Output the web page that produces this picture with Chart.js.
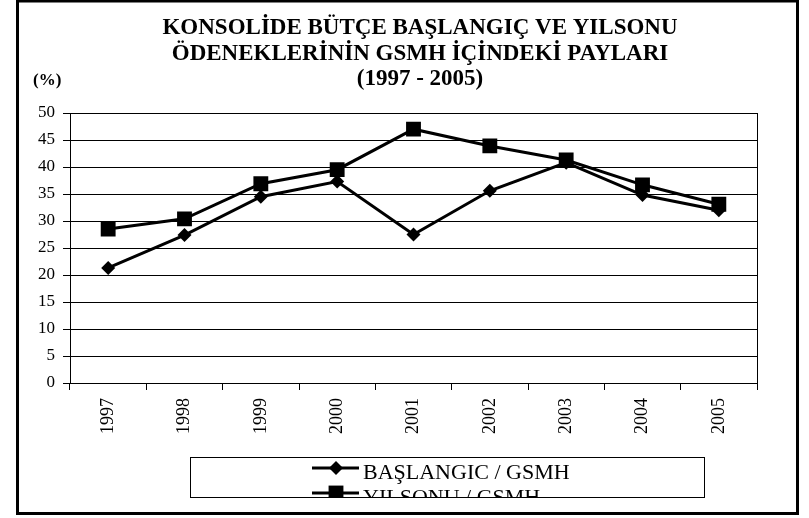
<!DOCTYPE html>
<html>
<head>
<meta charset="utf-8">
<script src="https://cdn.jsdelivr.net/npm/chart.js@4/dist/chart.umd.min.js"></script>
<style>
  html, body { margin: 0; padding: 0; background: #fff; }
  canvas { display: block; }
</style>
</head>
<body>
<canvas id="chart" width="809" height="518"></canvas>
<script>
// Data
const years = ['1997', '1998', '1999', '2000', '2001', '2002', '2003', '2004', '2005'];
const baslangic = [21.3, 27.4, 34.5, 37.3, 27.5, 35.6, 40.8, 34.8, 32.0];
const yilsonu = [28.5, 30.4, 36.9, 39.5, 47.0, 43.9, 41.3, 36.7, 33.1];
const seriesNames = ['BAŞLANGIC / GSMH', 'YILSONU / GSMH'];
const titleLines = ['KONSOLİDE BÜTÇE BAŞLANGIÇ VE YILSONU', 'ÖDENEKLERİNİN GSMH İÇİNDEKİ PAYLARI', '(1997 - 2005)'];
const unitLabel = '(%)';

const serif = "'Liberation Serif', 'Times New Roman', serif";

// Frame, title, unit label and the clipped legend box
const decorPlugin = {
  id: 'decor',
  afterDraw(chart) {
    const ctx = chart.ctx;
    const area = chart.chartArea;
    ctx.save();

    // plot area right border
    ctx.strokeStyle = '#000';
    ctx.lineWidth = 1;
    ctx.beginPath();
    ctx.moveTo(Math.round(area.right) + 0.5, area.top);
    ctx.lineTo(Math.round(area.right) + 0.5, area.bottom);
    ctx.stroke();

    // outer frame
    ctx.lineWidth = 3;
    ctx.strokeRect(17.5, 1, 780, 512.5);

    // title
    ctx.fillStyle = '#000';
    ctx.textAlign = 'center';
    ctx.textBaseline = 'alphabetic';
    ctx.font = 'bold 23px ' + serif;
    titleLines.forEach((line, i) => ctx.fillText(line, 420, 34 + i * 25.5));

    // unit label
    ctx.textAlign = 'left';
    ctx.font = 'bold 17px ' + serif;
    ctx.fillText(unitLabel, 33, 85);

    // legend box
    const box = { x: 190.5, y: 457.5, w: 514, h: 40 };
    ctx.lineWidth = 1;
    ctx.strokeRect(box.x, box.y, box.w, box.h);
    ctx.beginPath();
    ctx.rect(box.x + 0.5, box.y + 0.5, box.w - 1, box.h - 1);
    ctx.clip();

    ctx.font = '22px ' + serif;
    chart.data.datasets.forEach((ds, i) => {
      const cy = 468 + i * 25;
      ctx.strokeStyle = ds.borderColor;
      ctx.lineWidth = ds.borderWidth;
      ctx.beginPath();
      ctx.moveTo(312, cy);
      ctx.lineTo(359, cy);
      ctx.stroke();
      ctx.fillStyle = ds.pointBackgroundColor;
      Chart.helpers.drawPoint(ctx, {
        pointStyle: ds.pointStyle,
        radius: ds.pointRadius,
        rotation: 0,
        borderWidth: 0
      }, 336, cy);
      ctx.fillStyle = '#000';
      ctx.fillText(ds.label, 363, cy + 11);
    });

    ctx.restore();
  }
};

const chart = new Chart(document.getElementById('chart'), {
  type: 'line',
  data: {
    labels: years,
    datasets: [
      {
        label: seriesNames[0],
        data: baslangic,
        borderColor: '#000',
        borderWidth: 3,
        pointStyle: 'rectRot',
        pointRadius: 7,
        pointBackgroundColor: '#000',
        pointBorderColor: '#000',
        pointBorderWidth: 0,
        tension: 0
      },
      {
        label: seriesNames[1],
        data: yilsonu,
        borderColor: '#000',
        borderWidth: 3,
        pointStyle: 'rect',
        pointRadius: 10.5,
        pointBackgroundColor: '#000',
        pointBorderColor: '#000',
        pointBorderWidth: 0,
        tension: 0
      }
    ]
  },
  options: {
    responsive: false,
    animation: false,
    layout: {
      padding: { left: 0, right: 52, top: 113, bottom: 0 }
    },
    scales: {
      x: {
        type: 'category',
        offset: true,
        afterFit: (scale) => { scale.height = 135; },
        border: { display: true, color: '#000', width: 1 },
        grid: {
          offset: true,
          drawOnChartArea: false,
          drawTicks: true,
          tickLength: 7,
          color: '#000'
        },
        ticks: {
          minRotation: 90,
          maxRotation: 90,
          autoSkip: false,
          padding: 8,
          color: '#000',
          font: { family: serif, size: 18 }
        }
      },
      y: {
        min: 0,
        max: 50,
        afterFit: (scale) => { scale.width = 70; },
        border: { display: true, color: '#000', width: 1 },
        grid: {
          color: '#000',
          lineWidth: 1,
          tickLength: 7
        },
        ticks: {
          stepSize: 5,
          padding: 8,
          color: '#000',
          font: { family: serif, size: 17 }
        }
      }
    },
    plugins: {
      legend: { display: false },
      title: { display: false },
      tooltip: { enabled: false }
    }
  },
  plugins: [decorPlugin]
});
</script>
</body>
</html>
